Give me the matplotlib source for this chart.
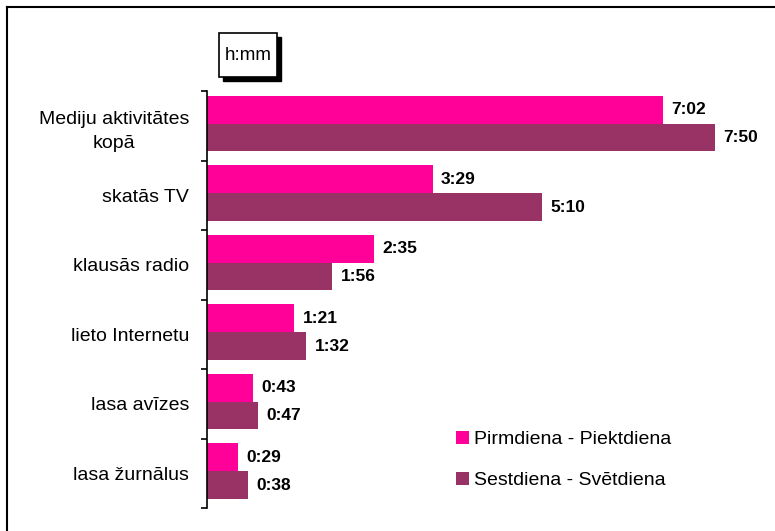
import matplotlib
matplotlib.use("Agg")
import matplotlib.pyplot as plt
import matplotlib.patches as patches
from matplotlib.lines import Line2D

categories = ["Mediju aktivitātes\nkopā", "skatās TV", "klausās radio",
              "lieto Internetu", "lasa avīzes", "lasa žurnālus"]
weekday_min = [422, 209, 155, 81, 43, 29]
weekend_min = [470, 310, 116, 92, 47, 38]
series_names = ["Pirmdiena - Piektdiena", "Sestdiena - Svētdiena"]
colors = ["#FF0099", "#993366"]

plt.rcParams['font.family'] = ['Liberation Sans', 'DejaVu Sans']

W, H = 775, 531
fig = plt.figure(figsize=(W / 100, H / 100), dpi=100, facecolor='white')

# axes placed in pixel terms
x0, x1, ytop, ybot = 207, 760, 91, 508
ax = fig.add_axes([x0 / W, 1 - ybot / H, (x1 - x0) / W, (ybot - ytop) / H])
ax.set_xlim(0, (x1 - x0) / 1.08)
ax.set_ylim(len(categories) - 0.5, -0.5)

def fmt(m):
    return f"{m // 60}:{m % 60:02d}"

pos = list(range(len(categories)))
h = 0.4
for i, (vals, c, name) in enumerate(zip([weekday_min, weekend_min], colors, series_names)):
    ys = [p - 0.23 + i * h for p in pos]
    ax.barh(ys, vals, height=h, color=c, label=name, edgecolor='none')
    for y, v in zip(ys, vals):
        ax.annotate(fmt(v), (v, y), xytext=(6, 0), textcoords='offset points',
                    va='center', ha='left', fontsize=12.5, fontweight='bold')

for s in ['top', 'right', 'bottom']:
    ax.spines[s].set_visible(False)
ax.spines['left'].set_linewidth(1.2)
ax.set_xticks([])
ax.set_yticks(pos)
ax.set_yticklabels(categories, fontsize=14, multialignment='center', linespacing=1.55)
ax.tick_params(axis='y', which='major', length=0, pad=13)
ax.set_yticks([p - 0.5 for p in range(len(categories) + 1)], minor=True)
ax.tick_params(axis='y', which='minor', length=4.5, width=1.2, direction='out')

ax.legend(loc='upper left', bbox_to_anchor=(456 / W, 1 - 431 / H),
          bbox_transform=fig.transFigure, frameon=False, fontsize=14,
          handlelength=0.65, handleheight=0.65, handletextpad=0.3,
          labelspacing=1.2, borderpad=0, borderaxespad=0)

# h:mm unit box with shadow
bx, by, bw, bh = 219, 33, 58, 44
fig.patches.append(patches.Rectangle(((bx + 4) / W, 1 - (by + bh + 4) / H), bw / W, bh / H,
                                     transform=fig.transFigure, facecolor='black',
                                     edgecolor='black', zorder=1))
fig.patches.append(patches.Rectangle((bx / W, 1 - (by + bh) / H), bw / W, bh / H,
                                     transform=fig.transFigure, facecolor='white',
                                     edgecolor='black', linewidth=1.2, zorder=2))
fig.text((bx + bw / 2) / W, 1 - (by + bh / 2) / H, "h:mm", ha='center', va='center',
         fontsize=13.5, zorder=3)

# outer frame (top and left edges visible)
fig.lines.append(Line2D([7 / W, 1], [1 - 7 / H, 1 - 7 / H], transform=fig.transFigure,
                        color='black', linewidth=1.5))
fig.lines.append(Line2D([7 / W, 7 / W], [0, 1 - 7 / H], transform=fig.transFigure,
                        color='black', linewidth=1.5))

fig.savefig("out.png", dpi=100)
